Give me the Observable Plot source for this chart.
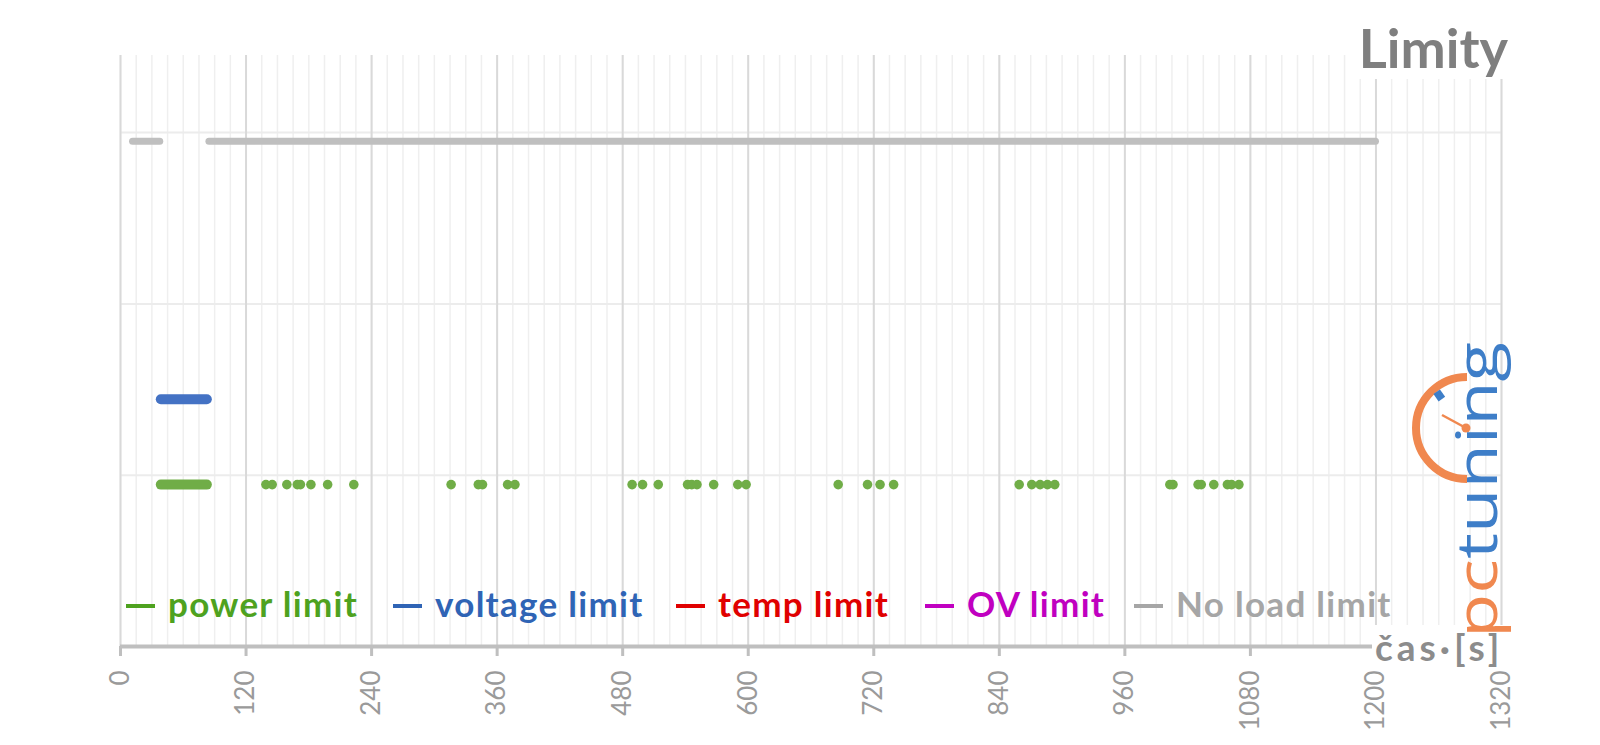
<!DOCTYPE html>
<html>
<head>
<meta charset="utf-8">
<script src="https://cdn.jsdelivr.net/npm/d3@7"></script>
<script src="https://cdn.jsdelivr.net/npm/@observablehq/plot@0.6"></script>
<style>
  html, body { margin: 0; padding: 0; background: #fff; }
  #wrap { position: relative; width: 1600px; height: 745px; overflow: hidden; }
  #chart { position: absolute; left: 0; top: 0; }
  .title { position: absolute; right: 88px; top: 17px; font-family: Lato, "Open Sans", sans-serif; font-weight: 700; font-size: 54px; color: #7f7f7f; background: #fff; padding: 0 4px; line-height: 62px; }
  .leg { position: absolute; top: 582px; font-family: Lato, "Open Sans", sans-serif; font-weight: 700; font-size: 35px; letter-spacing: 1.3px; line-height: 42px; white-space: nowrap; }
  .leg .dash { display: inline-block; width: 29px; height: 4px; vertical-align: middle; margin-right: 13px; position: relative; top: -2px; }
  .xlabel { position: absolute; left: 1372px; top: 625px; font-family: Lato, "Open Sans", sans-serif; font-weight: 700; font-size: 37px; letter-spacing: 4px; line-height: 44px; color: #8c8c8c; background: #fff; padding: 0 1px 0 3px; }
  #logo { position: absolute; left: 1380px; top: 330px; }
</style>
</head>
<body>
<div id="wrap">
  <div id="chart"></div>
  <div class="title">Limity</div>
  <div id="legend"></div>
  <div class="xlabel">čas·[s]</div>
  <svg id="logo" width="140" height="320" viewBox="0 0 140 320">
    <path d="M 87 47 A 51 51 0 0 0 87 149" fill="none" stroke="#f0884f" stroke-width="8"/>
    <rect x="55" y="61" width="8" height="9" fill="#3e7ec8" transform="rotate(-35 59 65)"/>
    <line x1="62" y1="85" x2="86" y2="98" stroke="#f0884f" stroke-width="2.5"/>
    <circle cx="86" cy="98" r="4.5" fill="#f0884f"/>
    <g transform="translate(117,308) rotate(-90)">
      <text x="0" y="0" font-family="'Open Sans', 'DejaVu Sans'" font-weight="500" font-size="56" textLength="296" lengthAdjust="spacingAndGlyphs"><tspan fill="#f0884f">pc</tspan><tspan fill="#3e7ec8">tuning</tspan></text>
    </g>
  </svg>
</div>
<script>
// ---- data ----
const xTicks = [0, 120, 240, 360, 480, 600, 720, 840, 960, 1080, 1200, 1320];
const yGridLevels = [1, 2, 3];

// level (y position) of each series row
const powerLevel = 0.945;
const voltageLevel = 1.443;
const noLoadLevel = 2.95;

// continuous runs [start s, end s]
const powerRuns = [[39, 83]];
const voltageRuns = [[39, 83]];
const noLoadRuns = [[12, 38], [85, 1200]];

// isolated power-limit events (s)
const powerEvents = [139, 145, 159, 169, 172, 182, 198, 223,
  316, 342, 346, 370, 377,
  489, 499, 514, 542, 546, 551, 567, 590, 598,
  686, 714, 726, 739,
  859, 871, 879, 886, 893,
  1003, 1006, 1030, 1033, 1045, 1058, 1062, 1069];

const legendNames = ["power limit", "voltage limit", "temp limit", "OV limit", "No load limit"];
const legendColors = ["#4ea21f", "#2f64b5", "#e00000", "#c000c0", "#a6a6a6"];
const legendLefts = [126, 393, 676, 925, 1134];

const minorTicks = d3.range(0, 1321, 15);

const chart = Plot.plot({
  width: 1600,
  height: 745,
  marginLeft: 120,
  marginRight: 99,
  marginTop: 55,
  marginBottom: 99,
  x: { domain: [0, 1320] },
  y: { domain: [0, 3.45], axis: null },
  style: { background: "transparent", fontFamily: "Lato, 'Open Sans', sans-serif" },
  marks: [
    Plot.ruleX(minorTicks, { stroke: "#efefef", strokeWidth: 1.5 }),
    Plot.ruleY(yGridLevels, { stroke: "#ececec", strokeWidth: 2 }),
    Plot.ruleX(xTicks, { stroke: "#d9d9d9", strokeWidth: 2 }),
    Plot.ruleY([0], { stroke: "#bfbfbf", strokeWidth: 4 }),
    Plot.axisX(xTicks, { tickSize: 10, tickFormat: () => "", stroke: "#bfbfbf", strokeWidth: 3 }),
    Plot.axisX(xTicks, { tickSize: 0, tickRotate: -90, tickPadding: 24, fontSize: 26, color: "#9a9a9a", fontWeight: 400, tickFormat: d => String(d) }),
    Plot.ruleY(noLoadRuns, { x1: d => d[0], x2: d => d[1], y: noLoadLevel, stroke: "#bfbfbf", strokeWidth: 7, strokeLinecap: "round" }),
    Plot.ruleY(voltageRuns, { x1: d => d[0], x2: d => d[1], y: voltageLevel, stroke: "#4472c4", strokeWidth: 10, strokeLinecap: "round" }),
    Plot.ruleY(powerRuns, { x1: d => d[0], x2: d => d[1], y: powerLevel, stroke: "#70ad47", strokeWidth: 10, strokeLinecap: "round" }),
    Plot.dot(powerEvents, { x: d => d, y: powerLevel, r: 4.8, fill: "#70ad47" })
  ]
});
document.getElementById("chart").appendChild(chart);

const leg = document.getElementById("legend");
legendNames.forEach((name, i) => {
  const item = document.createElement("div");
  item.className = "leg";
  item.style.left = legendLefts[i] + "px";
  item.style.color = legendColors[i];
  const dash = document.createElement("span");
  dash.className = "dash";
  dash.style.background = legendColors[i];
  item.appendChild(dash);
  item.appendChild(document.createTextNode(name));
  leg.appendChild(item);
});
</script>
</body>
</html>
